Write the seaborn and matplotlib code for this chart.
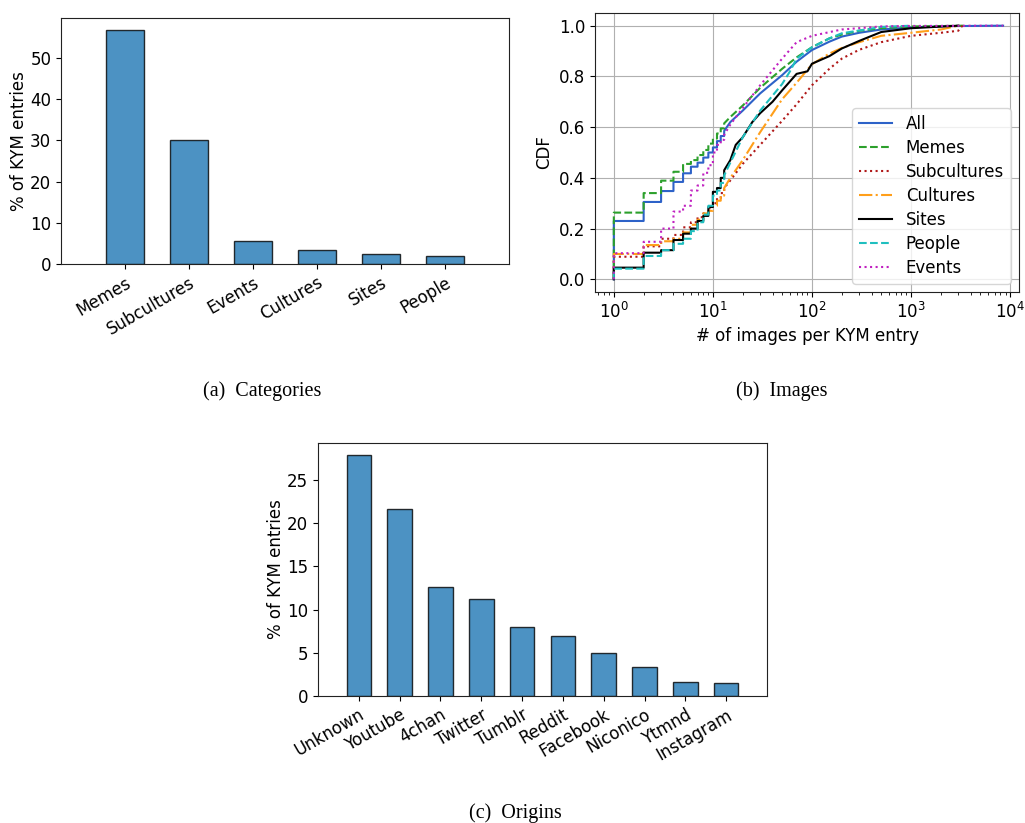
import numpy as np
import pandas as pd
import matplotlib
matplotlib.use("Agg")
import matplotlib.pyplot as plt
import seaborn as sns

# ---------------- data ----------------
categories = ["Memes", "Subcultures", "Events", "Cultures", "Sites", "People"]
category_pct = [56.8, 30.1, 5.6, 3.3, 2.4, 2.0]

origins = ["Unknown", "Youtube", "4chan", "Twitter", "Tumblr", "Reddit",
           "Facebook", "Niconico", "Ytmnd", "Instagram"]
origin_pct = [27.9, 21.7, 12.65, 11.25, 8.02, 6.9, 4.98, 3.36, 1.66, 1.47]

# CDF readings: (# images, CDF); integer values up to 13 are ECDF steps
all_x = [1, 2, 3, 4, 5, 6, 7, 8, 9, 10, 11, 12, 13, 15, 20, 30, 50, 70, 100, 150, 200, 300, 500, 1000, 2000, 8500]
all_cdf = [0.23, 0.305, 0.348, 0.384, 0.418, 0.444, 0.46, 0.48, 0.50, 0.52, 0.545, 0.565, 0.585,
           0.62, 0.665, 0.733, 0.805, 0.858, 0.904, 0.937, 0.957, 0.972, 0.985, 0.993, 0.998, 1.0]

memes_x = [1, 2, 3, 4, 5, 6, 7, 8, 9, 10, 11, 12, 13, 15, 20, 30, 50, 70, 100, 150, 200, 300, 500, 1000, 3400]
memes_cdf = [0.263, 0.34, 0.389, 0.424, 0.455, 0.47, 0.49, 0.51, 0.535, 0.555, 0.575, 0.595, 0.615,
             0.64, 0.685, 0.755, 0.83, 0.875, 0.915, 0.95, 0.965, 0.98, 0.99, 0.997, 1.0]

subcultures_x = [1, 2, 3, 4, 5, 6, 7, 8, 9, 10, 11, 12, 13, 15, 20, 30, 50, 70, 100, 150, 200, 300, 500, 1000, 2000, 3000, 3300]
subcultures_cdf = [0.089, 0.13, 0.16, 0.175, 0.205, 0.225, 0.245, 0.26, 0.28, 0.30, 0.32, 0.34, 0.36,
                   0.39, 0.455, 0.53, 0.625, 0.69, 0.765, 0.83, 0.87, 0.905, 0.935, 0.96, 0.972, 0.98, 1.0]

cultures_x = [1, 2, 3, 4, 5, 6, 7, 8, 9, 10, 11, 12, 13, 15, 20, 30, 50, 70, 100, 150, 200, 300, 500, 1000, 2000, 3000]
cultures_cdf = [0.10, 0.135, 0.15, 0.16, 0.185, 0.215, 0.235, 0.26, 0.27, 0.29, 0.31, 0.33, 0.36,
                0.40, 0.47, 0.58, 0.71, 0.775, 0.848, 0.89, 0.912, 0.935, 0.96, 0.972, 0.985, 1.0]

sites_x = [1, 2, 3, 4, 5, 6, 7, 8, 9, 10, 11, 12, 13, 15, 17, 20, 25, 30, 40, 50, 70, 90, 100, 150, 200, 300, 500, 1000, 3000]
sites_cdf = [0.046, 0.105, 0.115, 0.155, 0.18, 0.20, 0.23, 0.25, 0.285, 0.345, 0.36, 0.40, 0.43,
             0.47, 0.53, 0.56, 0.62, 0.655, 0.70, 0.745, 0.81, 0.82, 0.85, 0.88, 0.91, 0.94, 0.975, 0.99, 1.0]

people_x = [1, 2, 3, 4, 5, 6, 7, 8, 9, 10, 11, 12, 13, 15, 20, 30, 50, 60, 70, 100, 150, 200, 500, 1000]
people_cdf = [0.042, 0.092, 0.115, 0.14, 0.16, 0.19, 0.225, 0.255, 0.29, 0.33, 0.35, 0.38, 0.41,
              0.46, 0.56, 0.665, 0.77, 0.82, 0.87, 0.915, 0.95, 0.97, 0.995, 1.0]

events_x = [1, 2, 3, 4, 5, 6, 7, 8, 9, 10, 11, 12, 13, 15, 20, 30, 50, 70, 100, 200, 500, 1000, 8500]
events_cdf = [0.103, 0.148, 0.20, 0.267, 0.29, 0.35, 0.37, 0.42, 0.45, 0.50, 0.53, 0.55, 0.57,
              0.61, 0.675, 0.765, 0.87, 0.935, 0.96, 0.985, 0.997, 0.999, 1.0]

series_names = ["All", "Memes", "Subcultures", "Cultures", "Sites", "People", "Events"]
series_x = [all_x, memes_x, subcultures_x, cultures_x, sites_x, people_x, events_x]
series_cdf = [all_cdf, memes_cdf, subcultures_cdf, cultures_cdf, sites_cdf, people_cdf, events_cdf]
series_colors = ["#2d62c8", "#2ca02c", "#b01818", "#ff9f1a", "black", "#1fbfbf", "#c020c0"]
series_styles = ["-", "--", ":", "-.", "-", "--", ":"]
STEP_LAST = 13


def ecdf_path(xs, ys, last_step):
    px, py = [xs[0]], [0.0]
    prev = 0.0
    for x, y in zip(xs, ys):
        if x <= last_step:
            px += [x, x]
            py += [prev, y]
        else:
            px.append(x)
            py.append(y)
        prev = y
    return px, py


# ---------------- style ----------------
plt.rcParams["font.family"] = ["DejaVu Sans"]
FS = 12
plt.rcParams.update({
    "axes.labelsize": FS,
    "xtick.labelsize": FS,
    "ytick.labelsize": FS,
    "legend.fontsize": FS,
    "axes.edgecolor": "#222222",
})

W, H = 1025, 823
fig = plt.figure(figsize=(W / 100, H / 100), dpi=100)


def frac_axes(l, t, r, b):
    return fig.add_axes([l / W, 1 - b / H, (r - l) / W, (b - t) / H])


bar_color = "tab:blue"

# ---- (a) categories ----
ax_a = frac_axes(61, 18, 509, 264)
sns.barplot(x=categories, y=category_pct, color=bar_color, saturation=1, alpha=0.8,
            edgecolor="black", linewidth=1, width=0.6, ax=ax_a)
ax_a.set_xlim(-1, len(categories))
ax_a.set_ylabel("% of KYM entries", labelpad=1.5)
ax_a.set_xlabel("")
plt.setp(ax_a.get_xticklabels(), rotation=30, ha="right", rotation_mode="anchor")

# ---- (b) CDF ----
ax_b = frac_axes(595, 13, 1019, 292)
for name, xs, ys, col, ls in zip(series_names, series_x, series_cdf, series_colors, series_styles):
    px, py = ecdf_path(xs, ys, STEP_LAST)
    df = pd.DataFrame({"x": px, "y": py})
    sns.lineplot(data=df, x="x", y="y", color=col, linestyle=ls, linewidth=1.5,
                 estimator=None, sort=False, ax=ax_b, label=name)
ax_b.set_xscale("log")
ax_b.set_xlim(10 ** -0.19, 10 ** 4.09)
ax_b.set_ylim(-0.05, 1.05)
ax_b.set_yticks([0.0, 0.2, 0.4, 0.6, 0.8, 1.0])
ax_b.grid(True, which="major", color="#b0b0b0", linewidth=0.8)
ax_b.set_axisbelow(True)
ax_b.set_xlabel("# of images per KYM entry")
ax_b.set_ylabel("CDF")
ax_b.legend(loc="lower right", fontsize=FS, labelspacing=0.36)

# ---- (c) origins ----
ax_c = frac_axes(318, 443, 767, 696)
sns.barplot(x=origins, y=origin_pct, color=bar_color, saturation=1, alpha=0.8,
            edgecolor="black", linewidth=1, width=0.6, ax=ax_c)
ax_c.set_xlim(-1, len(origins))
ax_c.set_ylabel("% of KYM entries", labelpad=1.5)
ax_c.set_xlabel("")
plt.setp(ax_c.get_xticklabels(), rotation=30, ha="right", rotation_mode="anchor")

# ---- captions ----
cap_kw = dict(ha="center", va="center", family="Liberation Serif", fontsize=14.5)
fig.text(262.5 / W, 1 - 391.5 / H, "(a)  Categories", **cap_kw)
fig.text(781.7 / W, 1 - 391.5 / H, "(b)  Images", **cap_kw)
fig.text(515.8 / W, 1 - 813 / H, "(c)  Origins", **cap_kw)

fig.savefig("out.png", dpi=100)
